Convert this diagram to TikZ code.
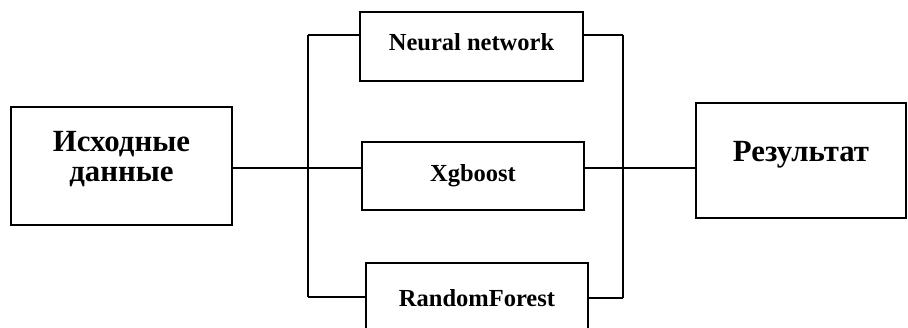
\documentclass[tikz,border=0pt]{standalone}
\usepackage{fontspec}
\setmainfont{Liberation Serif}
\begin{document}
\begin{tikzpicture}[x=1pt,y=-1pt, line width=2.8pt,
  box/.style={draw, line width=2.8pt, inner sep=0pt},
  lbl/.style={font=\fontsize{24.5}{28}\selectfont\bfseries},
  big/.style={font=\fontsize{30.8}{29.5}\selectfont\bfseries, align=center}]
\useasboundingbox (0,0) rectangle (908,328);
\clip (0,0) rectangle (908,328);
\node[box, minimum width=221pt, minimum height=118pt,
  label={[big, yshift=7pt]center:Исходные\\данные}] (src) at (121.5,166) {};
\node[box, minimum width=223pt, minimum height=69pt,
  label={[lbl, yshift=4pt]center:Neural network}] (nn) at (471.5,46.5) {};
\node[box, minimum width=222pt, minimum height=68pt,
  label={[lbl, yshift=0pt]center:Xgboost}] (xg) at (473,176) {};
\node[box, minimum width=222pt, minimum height=70pt,
  label={[lbl, yshift=0pt]center:RandomForest}] (rf) at (477,298) {};
\node[box, minimum width=210pt, minimum height=115pt,
  label={[big, yshift=5.5pt]center:Результат}] (res) at (801,160.5) {};
\coordinate (LT) at (308,35);
\coordinate (LM) at (308,168);
\coordinate (LB) at (308,297);
\coordinate (RT) at (623,35);
\coordinate (RM) at (623,168);
\coordinate (RB) at (623,298);
\draw (LT) -- (LB);
\draw (RT) -- (RB);
\draw (LT) -- (LT -| nn.west);
\draw (LM -| src.east) -- (LM) -- (LM -| xg.west);
\draw (LB) -- (LB -| rf.west);
\draw (RT) -- (RT -| nn.east);
\draw (RM -| xg.east) -- (RM) -- (RM -| res.west);
\draw (RB) -- (RB -| rf.east);
\end{tikzpicture}
\end{document}
